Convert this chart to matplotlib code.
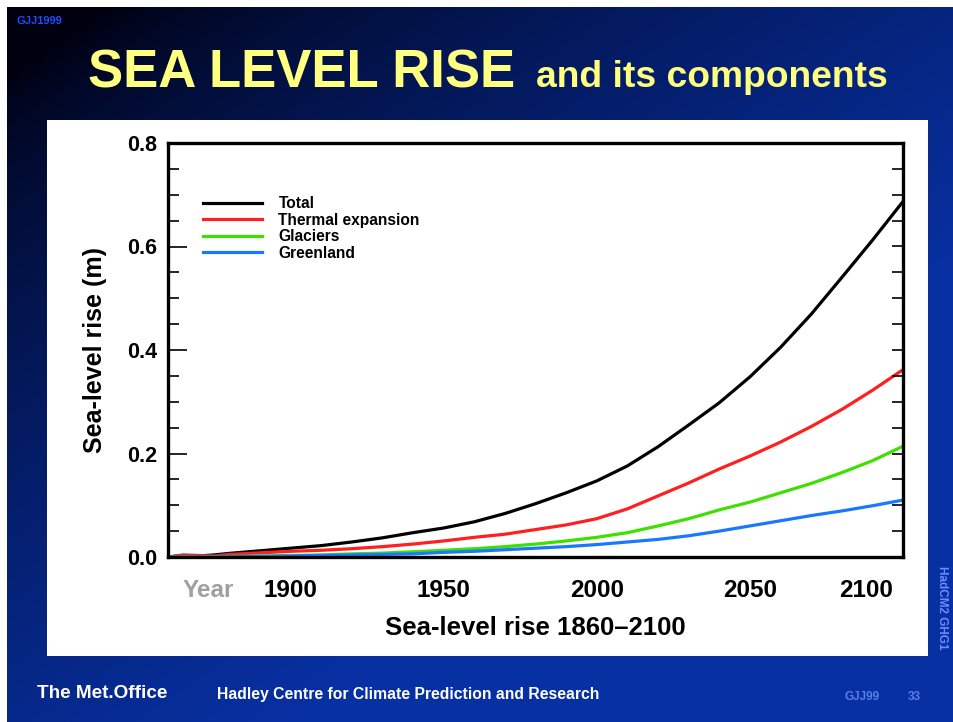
import numpy as np
import matplotlib
matplotlib.use('Agg')
import matplotlib.pyplot as plt
from matplotlib.patches import Rectangle

#------------------------------ Datos ------------------------------------------
years = [1860, 1865, 1870, 1875, 1880, 1890, 1900, 1910, 1920, 1930, 1940, 1950,
         1960, 1970, 1980, 1990, 2000, 2010, 2020, 2030, 2040, 2050, 2060, 2070,
         2080, 2090, 2100]
total = [0.0, 0.003, 0.002, 0.004, 0.007, 0.012, 0.017, 0.022, 0.029, 0.037, 0.047, 0.056,
         0.068, 0.084, 0.103, 0.124, 0.147, 0.176, 0.213, 0.255, 0.298, 0.348, 0.405, 0.469,
         0.540, 0.612, 0.687]
thermal = [0.0, 0.004, 0.003, 0.002, 0.005, 0.008, 0.011, 0.013, 0.016, 0.020, 0.025, 0.031,
           0.038, 0.044, 0.053, 0.062, 0.074, 0.093, 0.118, 0.143, 0.170, 0.195, 0.222, 0.252,
           0.285, 0.322, 0.362]
glaciers = [0.0, 0.0, 0.0, 0.0005, 0.001, 0.002, 0.003, 0.004, 0.006, 0.0075, 0.010, 0.013,
            0.016, 0.020, 0.025, 0.031, 0.038, 0.047, 0.060, 0.074, 0.091, 0.106, 0.124, 0.142,
            0.163, 0.186, 0.214]
greenland = [0.0, 0.0, 0.0, 0.0, 0.0005, 0.001, 0.002, 0.003, 0.004, 0.005, 0.006, 0.009,
             0.011, 0.014, 0.017, 0.020, 0.024, 0.029, 0.034, 0.041, 0.050, 0.060, 0.070, 0.080,
             0.089, 0.099, 0.110]
labels = ['Total', 'Thermal expansion', 'Glaciers', 'Greenland']
colors = ['#000000', '#ff1f1f', '#3de000', '#1a78ff']
xtick_pos = [1873, 1900, 1950, 2000, 2050, 2088]
xtick_lab = ['Year', '1900', '1950', '2000', '2050', '2100']
yticks = [0.0, 0.2, 0.4, 0.6, 0.8]
#-------------------------------------------------------------------------------

plt.rcParams['font.family'] = ['Liberation Sans', 'DejaVu Sans']
plt.rcParams['font.weight'] = 'bold'
plt.rcParams['axes.labelweight'] = 'bold'

W, H = 954, 722
fig = plt.figure(figsize=(W / 100, H / 100), dpi=100, facecolor='white')

def fx(x):
    return x / W

def fy(y):
    return 1 - y / H

#---------------------------- Fondo degradado ----------------------------------
bg = fig.add_axes([fx(7), 0, fx(W - 7), fy(7)], zorder=-2)
gx, gy = np.meshgrid(np.linspace(0, 1, 300), np.linspace(0, 1, 230))
u = np.clip(0.75 * gx + 0.85 * gy - 0.08, 0, 1) ** 0.7
dark = np.array([0.0, 0.0, 0.06])
blue = np.array([0.03, 0.19, 0.64])
img = dark[None, None, :] + (blue - dark)[None, None, :] * u[:, :, None]
bg.imshow(img, aspect='auto', extent=[0, 1, 1, 0], interpolation='bilinear')
bg.axis('off')

fig.patches.append(Rectangle((fx(47), fy(656)), fx(881), 536 / H, transform=fig.transFigure,
                             facecolor='white', edgecolor='none', zorder=-1))

#---------------------------- Textos de la diapositiva ---------------------------
fig.text(fx(17), fy(21), 'GJJ1999', color='#1f4dff', fontsize=8, va='center', ha='left')
fig.text(fx(88), fy(87), 'SEA LEVEL RISE', color='#ffff80', fontsize=38, va='baseline')
fig.text(fx(536), fy(87), 'and its components', color='#ffff80', fontsize=26.8, va='baseline')
fig.text(fx(37), fy(693), 'The Met.Office', color='white', fontsize=13.6, va='center')
fig.text(fx(217), fy(695), 'Hadley Centre for Climate Prediction and Research', color='white',
         fontsize=11.3, va='center')
fig.text(fx(845), fy(697), 'GJJ99', color='#5a7ee8', fontsize=8.5, va='center')
fig.text(fx(908), fy(697), '33', color='#5a7ee8', fontsize=8.5, va='center')
fig.text(fx(942), fy(608), 'HadCM2 GHG1', color='#6a8cff', fontsize=8.5, va='center',
         ha='center', rotation=-90)

#---------------------------- Grafica ------------------------------------------
ax = fig.add_axes([fx(168), fy(557), fx(903 - 168), (557 - 143) / H])
series = [total, thermal, glaciers, greenland]
for s, lab, c in zip(series, labels, colors):
    ax.plot(years, s, color=c, lw=2.3, label=lab)

ax.set_xlim(1860, 2100)
ax.set_ylim(0, 0.8)
for sp in ax.spines.values():
    sp.set_linewidth(2.4)

ax.set_yticks(yticks)
ax.set_yticklabels(['%.1f' % v for v in yticks], fontsize=15.5)
ax.set_yticks(np.arange(0, 0.81, 0.05), minor=True)
ax.tick_params(axis='y', which='major', direction='in', length=14, width=1.2, pad=8, right=False)
ax.tick_params(axis='y', which='minor', direction='in', length=8, width=1.2, right=False)

ax2 = ax.twinx()
ax2.set_ylim(0, 0.8)
ax2.set_yticks(np.arange(0, 0.81, 0.05))
ax2.tick_params(axis='y', direction='in', length=8, width=1.2, labelright=False)

ax.set_xticks(xtick_pos)
ax.set_xticklabels(xtick_lab, fontsize=17.5)
ax.get_xticklabels()[0].set_color('#a0a0a0')
ax.set_xticks([1900, 1950, 2000, 2050], minor=True)
ax.tick_params(axis='x', which='major', length=0, pad=16)
ax.tick_params(axis='x', which='minor', direction='in', length=8, width=1.2, top=True)

ax.set_xlabel('Sea-level rise 1860\u20132100', fontsize=18.5, labelpad=10)
ax.set_ylabel('Sea-level rise (m)', fontsize=18, labelpad=14)

ax.legend(loc='upper left', bbox_to_anchor=(fx(203), fy(196)), bbox_transform=fig.transFigure,
          frameon=False, fontsize=11.2, handlelength=3.8, handletextpad=1.05,
          labelspacing=0.1, borderpad=0, borderaxespad=0)

fig.savefig('out.png', dpi=100)
